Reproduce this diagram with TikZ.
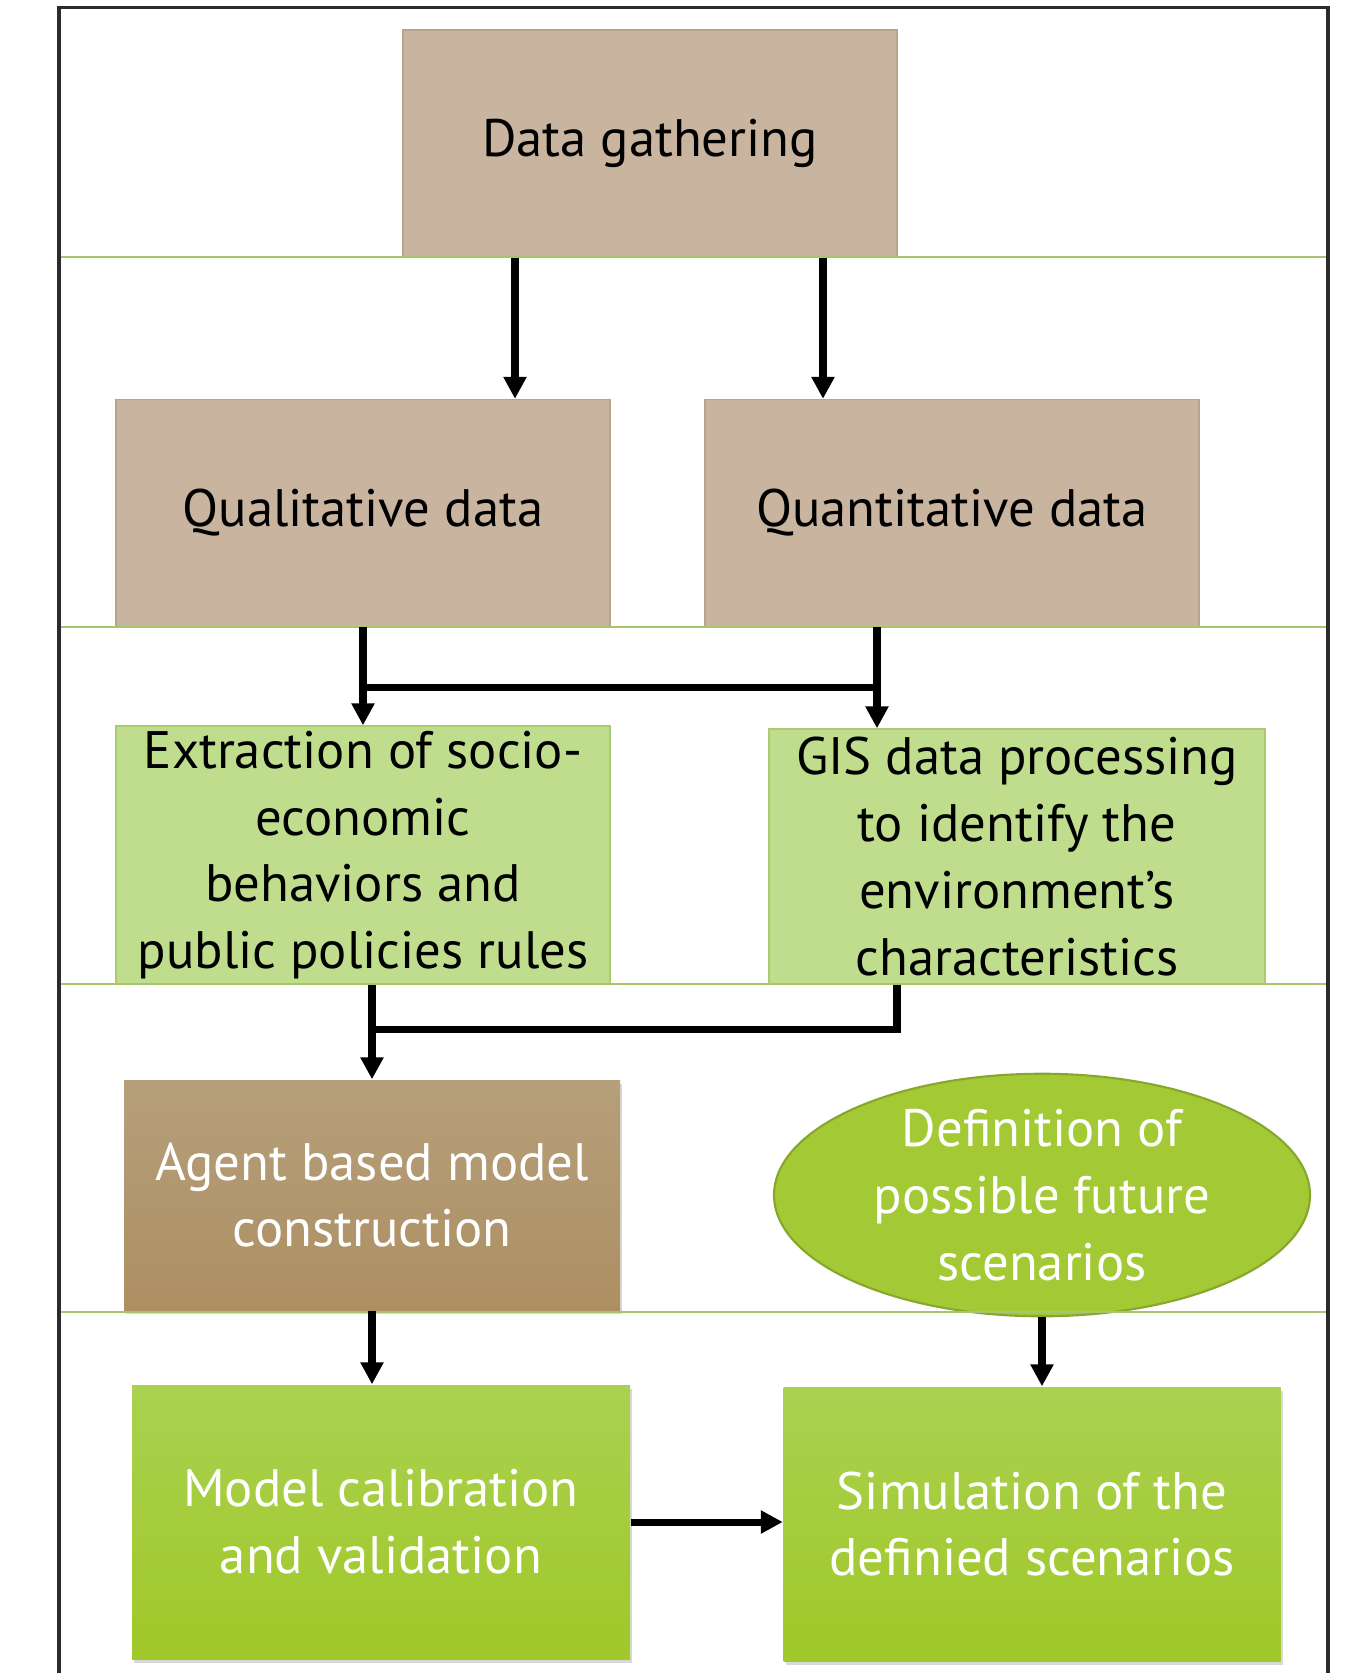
\documentclass[tikz,border=0pt]{standalone}
\usepackage{fontspec}
\setmainfont{PT Sans}
\usepackage{tikz}
\usetikzlibrary{arrows,arrows.meta,shapes,positioning,shadows,calc}

\definecolor{tanfill}{HTML}{C9B59F}
\definecolor{tanline}{HTML}{B9A48A}
\definecolor{palegreen}{HTML}{BFDD8D}
\definecolor{palegreenline}{HTML}{A9CD6E}
\definecolor{browntop}{HTML}{B59F7B}
\definecolor{brownbot}{HTML}{AD8F62}
\definecolor{limetop}{HTML}{AAD150}
\definecolor{limebot}{HTML}{A0C828}
\definecolor{limefill}{HTML}{A3C934}
\definecolor{limeline}{HTML}{86A62C}
\definecolor{rowline}{HTML}{A8C46C}
\definecolor{frameline}{HTML}{2B2B2B}

\begin{document}
\begin{tikzpicture}[node distance=3.4cm,>={Triangle[length=2.2mm,width=2.2mm]},
  every node/.style={font=\fontsize{15}{19}\selectfont}]

  \tikzstyle{tan box}=[rectangle,fill=tanfill,draw=tanline,
                       minimum width=4.94cm,minimum height=2.27cm,align=center]
  \tikzstyle{pale box}=[rectangle,fill=palegreen,draw=palegreenline,inner sep=0pt,
                        minimum width=4.94cm,minimum height=2.58cm,align=center]
  \tikzstyle{brown box}=[rectangle,top color=browntop,bottom color=brownbot,
                         minimum width=4.96cm,minimum height=2.30cm,align=center,text=white,
                         drop shadow={shadow xshift=0.02cm,shadow yshift=-0.04cm,opacity=0.3}]
  \tikzstyle{lime box}=[rectangle,top color=limetop,bottom color=limebot,
                        minimum width=4.98cm,minimum height=2.74cm,align=center,text=white,
                        drop shadow={shadow xshift=0.02cm,shadow yshift=-0.04cm,opacity=0.3}]
  \tikzstyle{scenario}=[ellipse,fill=limefill,draw=limeline,line width=0.6pt,inner sep=0pt,
                        minimum width=5.36cm,minimum height=2.34cm,align=center,text=white]
  \tikzstyle{flow}=[->,line width=2pt,black]

  \useasboundingbox (0,0) rectangle (13.58,-16.73);

  % data sources
  \node [tan box] (dg) at (6.50,-1.435)                                    {Data gathering};
  \node [tan box] (qual) [below of=dg,node distance=3.695cm,xshift=-2.87cm] {Qualitative data};
  \node [tan box] (quan) [right of=qual,node distance=5.89cm]               {Quantitative data};

  % processing
  \node [pale box] (extr) [below of=qual,node distance=3.42cm]
    {Extraction of socio-\\economic\\behaviors and\\public policies rules};
  \node [pale box,minimum width=4.96cm,minimum height=2.55cm] (gis)
    [right of=extr,node distance=6.54cm,yshift=-0.015cm]
    {GIS data processing\\to identify the\\environment’s\\characteristics};

  % model and scenarios
  \node [brown box] (agent) [below of=extr,node distance=3.40cm,xshift=0.09cm]
    {Agent based model\\construction};
  \node [scenario] (scen) [right of=agent,node distance=6.70cm]
    {Definition of\\possible future\\scenarios};
  \node [lime box] (model) [below of=agent,node distance=3.27cm,xshift=0.09cm]
    {Model calibration\\and validation};
  \node [lime box,minimum width=4.97cm] (sim) [right of=model,node distance=6.51cm,yshift=-0.02cm]
    {Simulation of the\\definied scenarios};

  % frame and row lines
  \foreach \y in {2.57,6.27,9.84,13.12}
    \draw [rowline,line width=0.7pt] (0.59,-\y) -- (13.28,-\y);
  \draw [frameline,line width=0.9pt] (0.59,-16.73) |- (13.28,-0.075) -- (13.28,-16.73);

  % connectors
  \draw [flow] ([xshift=-1.35cm]dg.south) -- ([xshift=-1.35cm]dg.south |- qual.north);
  \draw [flow] ([xshift=1.73cm]dg.south)  -- ([xshift=1.73cm]dg.south |- quan.north);
  \draw [flow] (qual.south) -- (extr.north);
  \draw [flow] ([xshift=-0.75cm]quan.south) -- ([xshift=-0.75cm]quan.south |- gis.north);
  \draw [line width=2pt] ([yshift=-0.6cm]qual.south) -- ([xshift=-0.75cm,yshift=-0.6cm]quan.south);

  \draw [flow] (agent.north |- extr.south) -- (agent.north);
  \draw [line width=2pt] ([xshift=-1.2cm]gis.south) |- ([yshift=0.5cm]agent.north);

  \draw [flow] (agent.south) -- (agent.south |- model.north);
  \draw [flow] (scen.south) -- (scen.south |- sim.north);
  \draw [flow] (model.east) -- (model.east -| sim.west);
\end{tikzpicture}
\end{document}
